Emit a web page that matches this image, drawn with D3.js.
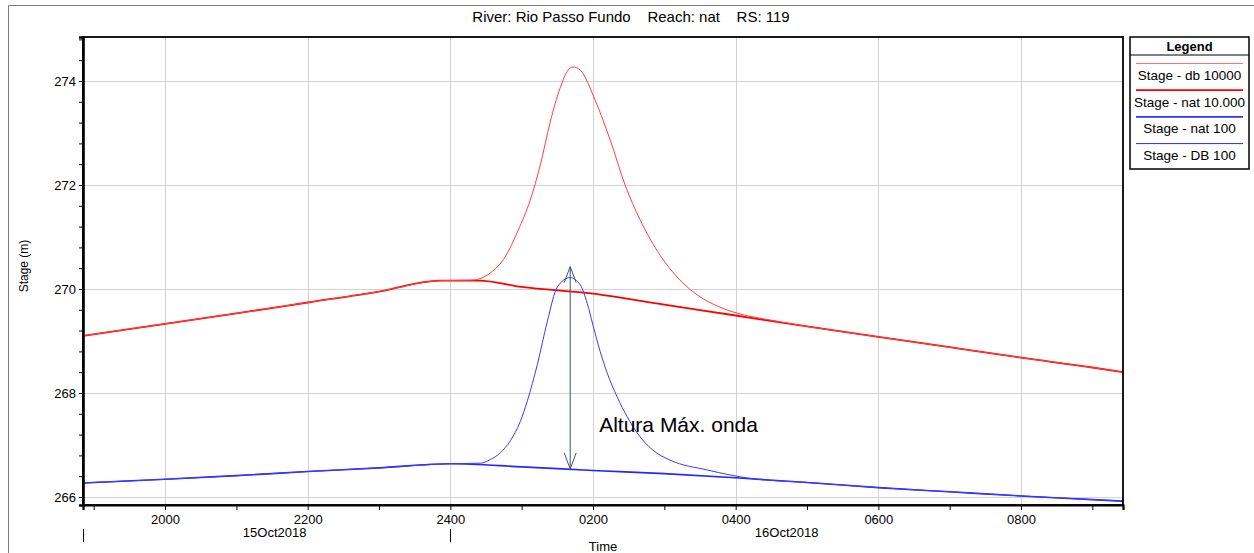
<!DOCTYPE html>
<html>
<head>
<meta charset="utf-8">
<script src="https://cdn.jsdelivr.net/npm/d3@7"></script>
<style>
  body { margin: 0; background: #fff; }
  svg { display: block; font-family: "Liberation Sans", Arial, sans-serif; }
</style>
</head>
<body>
<div id="viz"></div>
<script>
// Stage hydrographs at RS 119.
// Times are hours after 15Oct2018 0000.

var title = "River: Rio Passo Fundo    Reach: nat    RS: 119";
var seriesNames = ["Stage - db 10000", "Stage - nat 10.000", "Stage - nat 100", "Stage - DB 100"];
var yTicksLabelled = [266, 268, 270, 272, 274];
var dayLabels = ["15Oct2018", "16Oct2018"];

// Stage - nat 10.000
var natBigHours = [18.85, 20, 21, 22, 23, 23.85, 24.4, 25, 26, 27, 28, 29, 30, 31, 32, 33, 33.43];
var natBigStage = [269.10, 269.33, 269.53, 269.74, 269.95, 270.16, 270.16, 270.04, 269.91, 269.70, 269.49, 269.28, 269.08, 268.88, 268.68, 268.49, 268.40];

// Stage - db 10000 (dam break wave)
var dbBigHours = [18.85, 20, 21, 22, 23, 23.85, 24.3, 24.56, 24.77, 24.95, 25.12, 25.26, 25.40, 25.54, 25.65, 25.72, 25.82, 26.03, 26.24, 26.45, 26.66, 26.94, 27.22, 27.5, 27.78, 28.06, 28.5, 29, 30, 31, 32, 33, 33.43];
var dbBigStage = [269.10, 269.33, 269.53, 269.74, 269.95, 270.16, 270.17, 270.31, 270.62, 271.13, 271.71, 272.38, 273.21, 273.87, 274.21, 274.27, 274.21, 273.63, 272.87, 272.00, 271.33, 270.65, 270.17, 269.85, 269.65, 269.52, 269.40, 269.28, 269.08, 268.88, 268.68, 268.49, 268.40];

// Stage - nat 100
var natSmallHours = [18.85, 20, 21, 22, 23, 24, 25, 26, 27, 28, 29, 30, 31, 32, 33, 33.43];
var natSmallStage = [266.27, 266.34, 266.41, 266.49, 266.56, 266.64, 266.58, 266.51, 266.45, 266.37, 266.28, 266.18, 266.10, 266.02, 265.95, 265.92];

// Stage - DB 100 (dam break wave)
var dbSmallHours = [18.85, 20, 21, 22, 23, 24, 24.42, 24.56, 24.70, 24.84, 24.98, 25.08, 25.22, 25.36, 25.50, 25.68, 25.82, 25.92, 26.00, 26.10, 26.20, 26.34, 26.48, 26.62, 26.84, 27.08, 27.6, 28.24, 29, 30, 31, 32, 33, 33.43];
var dbSmallStage = [266.27, 266.34, 266.41, 266.49, 266.56, 266.64, 266.65, 266.72, 266.85, 267.08, 267.45, 267.85, 268.55, 269.38, 270.04, 270.22, 270.08, 269.72, 269.30, 268.80, 268.38, 267.92, 267.54, 267.23, 266.90, 266.71, 266.52, 266.35, 266.28, 266.18, 266.10, 266.02, 265.95, 265.92];

// annotation: maximum wave height arrow
var arrowHour = 25.68;
var arrowFrom = 266.54, arrowTo = 270.43;
var arrowText = "Altura Máx. onda";

var W = 1254, H = 553;
var plot = {left: 83, top: 37, right: 1123, bottom: 505};
var startDate = new Date(2018, 9, 15, 0, 0, 0);
function toDate(h) { return new Date(startDate.getTime() + h * 3600000); }

var x = d3.scaleTime()
    .domain([toDate(18.85), toDate(33.43)])
    .range([plot.left, plot.right]);
var y = d3.scaleLinear()
    .domain([265.846, 274.846])
    .range([plot.bottom, plot.top]);

var svg = d3.select("#viz").append("svg")
    .attr("width", W).attr("height", H);

// outer frame
svg.append("path")
    .attr("d", "M8.5," + H + "V5.5H" + W)
    .attr("fill", "none").attr("stroke", "#7a7a7a").attr("stroke-width", 1);

svg.append("text")
    .attr("x", 631).attr("y", 22)
    .attr("text-anchor", "middle")
    .style("font-size", "15px")
    .style("white-space", "pre")
    .attr("xml:space", "preserve")
    .text(title);

// grid
var hourTicks = d3.timeHour.every(1).range(x.domain()[0], x.domain()[1]);
var evenHours = hourTicks.filter(function(d) { return d.getHours() % 2 == 0; });
var grid = svg.append("g").attr("stroke", "#d2d2d2").attr("stroke-width", 1);
grid.selectAll("line.v").data(evenHours).enter().append("line")
    .attr("x1", function(d) { return Math.round(x(d)) + 0.5; })
    .attr("x2", function(d) { return Math.round(x(d)) + 0.5; })
    .attr("y1", plot.top).attr("y2", plot.bottom);
grid.selectAll("line.h").data(yTicksLabelled).enter().append("line")
    .attr("y1", function(d) { return Math.round(y(d)) + 0.5; })
    .attr("y2", function(d) { return Math.round(y(d)) + 0.5; })
    .attr("x1", plot.left).attr("x2", plot.right);

// lines
var line = d3.line()
    .x(function(d) { return x(toDate(d[0])); })
    .y(function(d) { return y(d[1]); })
    .curve(d3.curveMonotoneX);
function pairs(hs, vs) { return hs.map(function(h, i) { return [h, vs[i]]; }); }

var styles = [
    {color: "#ff4040", width: 1, legend: "#ff7070"},
    {color: "#ff0000", width: 1.8, legend: "#ff0000"},
    {color: "#2626ff", width: 1.6, legend: "#3030ff"},
    {color: "#3a3aff", width: 1, legend: "#2a2ad0"}
];
var seriesData = [
    pairs(dbBigHours, dbBigStage),
    pairs(natBigHours, natBigStage),
    pairs(natSmallHours, natSmallStage),
    pairs(dbSmallHours, dbSmallStage)
];

svg.append("defs").append("clipPath").attr("id", "clip")
    .append("rect")
    .attr("x", plot.left).attr("y", plot.top)
    .attr("width", plot.right - plot.left).attr("height", plot.bottom - plot.top);

var lines = svg.append("g").attr("clip-path", "url(#clip)");
[1, 0, 2, 3].forEach(function(i) {
    lines.append("path")
        .attr("d", line(seriesData[i]))
        .attr("fill", "none")
        .attr("stroke", styles[i].color)
        .attr("stroke-width", styles[i].width);
});

// arrow
var ax = x(toDate(arrowHour));
var ay1 = y(arrowFrom), ay2 = y(arrowTo);
var arrow = svg.append("g").attr("stroke", "#3d4f7d").attr("stroke-width", 1).attr("fill", "none");
arrow.append("line").attr("x1", ax).attr("x2", ax).attr("y1", ay1).attr("y2", ay2);
arrow.append("path").attr("d", "M" + (ax - 6) + "," + (ay2 + 16) + "L" + ax + "," + ay2 + "L" + (ax + 6) + "," + (ay2 + 16));
arrow.append("path").attr("d", "M" + (ax - 6) + "," + (ay1 - 16) + "L" + ax + "," + ay1 + "L" + (ax + 6) + "," + (ay1 - 16));
svg.append("text")
    .attr("x", ax + 29).attr("y", y(267.25))
    .style("font-size", "21px")
    .text(arrowText);

// frame
svg.append("rect")
    .attr("x", plot.left).attr("y", plot.top)
    .attr("width", plot.right - plot.left).attr("height", plot.bottom - plot.top)
    .attr("fill", "none").attr("stroke", "#000").attr("stroke-width", 1.8);

// y axis
var yMinor = d3.range(266, 274.85, 0.4).map(function(v) { return +v.toFixed(1); });
var yAxis = svg.append("g")
    .attr("transform", "translate(" + plot.left + ",0)")
    .call(d3.axisLeft(y).tickValues(yMinor).tickSize(4).tickPadding(3)
        .tickFormat(function(d) { return yTicksLabelled.indexOf(d) >= 0 ? d : ""; }));
yAxis.select(".domain").attr("stroke-width", 2.6);
yAxis.selectAll("text").style("font-size", "13px").attr("fill", "#000");
svg.append("text")
    .attr("transform", "translate(28,266) rotate(-90)")
    .attr("text-anchor", "middle")
    .style("font-size", "12px")
    .text("Stage (m)");

// x axis
var xAxis = svg.append("g")
    .attr("transform", "translate(0," + plot.bottom + ")")
    .call(d3.axisBottom(x).tickValues(hourTicks).tickSize(5).tickPadding(5)
        .tickFormat(function(d) {
            if (d.getHours() % 2) return "";
            var h = d.getHours() == 0 ? 24 : d.getHours();
            return d3.format("02")(h) + "00";
        }));
xAxis.select(".domain").attr("stroke-width", 2.2);
xAxis.selectAll("text").style("font-size", "13px").attr("fill", "#000");

// day labels
var midnight = d3.timeDay.ceil(x.domain()[0]);
var dayEdges = [x.domain()[0], midnight, x.domain()[1]];
var days = svg.append("g");
[dayEdges[0], dayEdges[1]].forEach(function(d) {
    days.append("line")
        .attr("x1", Math.round(x(d)) + 0.5).attr("x2", Math.round(x(d)) + 0.5)
        .attr("y1", 529).attr("y2", 542)
        .attr("stroke", "#000").attr("stroke-width", 1);
});
dayLabels.forEach(function(lbl, i) {
    days.append("text")
        .attr("x", (x(dayEdges[i]) + x(dayEdges[i + 1])) / 2 + (i == 0 ? 8 : 0))
        .attr("y", 537)
        .attr("text-anchor", "middle")
        .style("font-size", "13px")
        .text(lbl);
});
svg.append("text")
    .attr("x", 603).attr("y", 551)
    .attr("text-anchor", "middle")
    .style("font-size", "13px")
    .text("Time");

// legend
var lg = svg.append("g").attr("transform", "translate(1130,37)");
lg.append("rect").attr("width", 119).attr("height", 132)
    .attr("fill", "#fff").attr("stroke", "#000").attr("stroke-width", 1.5);
lg.append("line").attr("x1", 0).attr("x2", 119).attr("y1", 18).attr("y2", 18)
    .attr("stroke", "#000").attr("stroke-width", 1);
lg.append("text").attr("x", 59.5).attr("y", 13.5)
    .attr("text-anchor", "middle").style("font-size", "13px").style("font-weight", "bold")
    .text("Legend");
seriesNames.forEach(function(name, i) {
    var yy = 26.5 + i * 26.7;
    lg.append("line").attr("x1", 6).attr("x2", 113)
        .attr("y1", yy).attr("y2", yy)
        .attr("stroke", styles[i].legend).attr("stroke-width", styles[i].width);
    lg.append("text").attr("x", 59.5).attr("y", yy + 16.5)
        .attr("text-anchor", "middle").style("font-size", "13.5px")
        .text(name);
});
</script>
</body>
</html>
